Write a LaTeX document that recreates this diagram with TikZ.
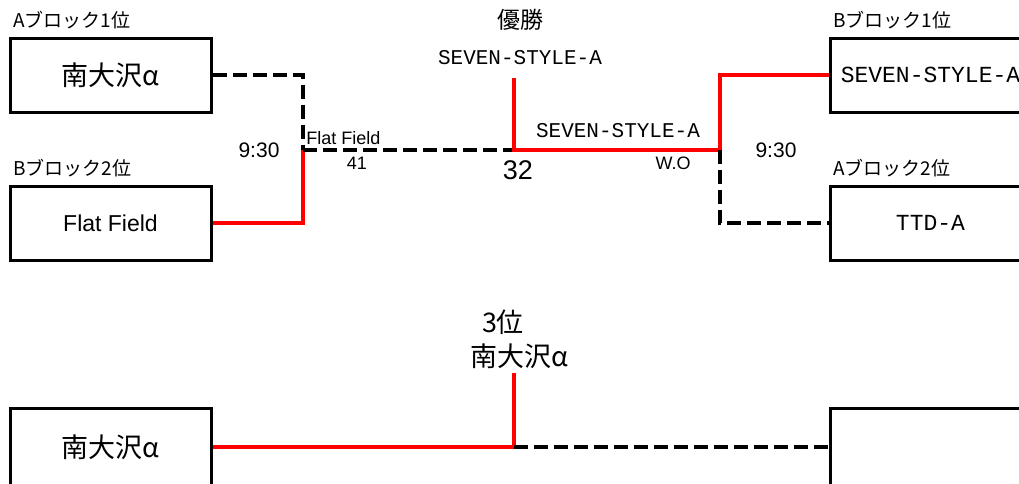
\documentclass[tikz,border=0pt]{standalone}
\usepackage{fontspec}
\setmainfont{Liberation Sans}
\newfontfamily\jpfont{Noto Sans CJK JP}
\newfontfamily\monofont{Liberation Mono}
\usetikzlibrary{positioning}
\definecolor{BrkRed}{HTML}{FF0000}
\definecolor{BrkDark}{HTML}{000000}
\newcommand{\BrkBlock}{\jpfont\fontsize{9.5}{10.5}\selectfont}
\newcommand{\BrkTeamJp}{\jpfont\fontsize{13.5}{14.5}\selectfont}
\newcommand{\BrkTeamLat}{\fontsize{11.5}{12.5}\selectfont}
\newcommand{\BrkTeamMono}{\monofont\fontsize{11.5}{12.5}\selectfont}
\newcommand{\BrkWinner}{\monofont\fontsize{10.5}{11.5}\selectfont}
\newcommand{\BrkTime}{\fontsize{10.5}{11.5}\selectfont}
\newcommand{\BrkSmall}{\fontsize{9}{10}\selectfont}
\newcommand{\BrkScore}{\fontsize{13.5}{14.5}\selectfont}
\newcommand{\BrkTitle}{\jpfont\fontsize{11.5}{12.5}\selectfont}
\newcommand{\BrkThird}{\jpfont\fontsize{13.5}{14.5}\selectfont}
\tikzset{
  teambox/.style={
    draw=BrkDark,
    line width=1.5pt,
    rectangle,
    minimum width=100.5pt,
    minimum height=37pt,
    inner sep=0pt,
    align=center,
    text=BrkDark
  },
  winline/.style={
    draw=BrkRed,
    line width=2pt
  },
  loseline/.style={
    draw=BrkDark,
    line width=2pt,
    dash pattern=on 7pt off 3pt
  },
  blocklabel/.style={
    anchor=west,
    inner sep=0pt,
    text=BrkDark,
    font=\BrkBlock
  },
  matchlabel/.style={
    inner sep=0pt,
    text=BrkDark
  }
}
\begin{document}
\begin{tikzpicture}[x=0.5pt,y=-0.5pt]
\clip (0,0) rectangle (1019,483);

% semi-final teams
\node[teambox, font=\BrkTeamJp] (minami) at (110.5,75) {南大沢α};
\node[teambox, font=\BrkTeamLat] (flat) at (110.5,223) {Flat Field};
\node[teambox, font=\BrkTeamMono] (seven) at (930.5,75) {SEVEN-STYLE-A};
\node[teambox, font=\BrkTeamMono] (ttd) at (930.5,223) {TTD-A};

\node[blocklabel] (minamiblk) at (13,20) {Aブロック1位};
\node[blocklabel] (flatblk) at (13,168) {Bブロック2位};
\node[blocklabel] (sevenblk) at (833,20) {Bブロック1位};
\node[blocklabel] (ttdblk) at (833,168) {Aブロック2位};

% third place teams
\node[teambox, font=\BrkTeamJp, minimum height=39pt] (thirdL) at (110.5,447) {南大沢α};
\node[teambox, minimum height=39pt] (thirdR) at (930.5,447) {};

% junctions
\coordinate (semiL) at (303,150);
\coordinate (semiR) at (720,150);
\coordinate (final) at (514,150);
\coordinate (champ) at (514,78);
\coordinate (third) at (514,447);
\coordinate (thirdtop) at (514,373);

% final bracket
\draw[loseline] (minami.east) -| (semiL);
\draw[winline] (flat.east) -| (semiL);
\draw[loseline] (semiL) -- (final);
\draw[winline] (champ) -- (final) -- (semiR);
\draw[winline] (semiR) |- (seven.west);
\draw[loseline] (semiR) |- (ttd.west);

% third place bracket
\draw[winline] (thirdL.east) -| (thirdtop);
\draw[loseline] (third) -- (thirdR.west);

% labels
\node[matchlabel, font=\BrkTitle] (wintitle) at (520,20) {優勝};
\node[matchlabel, font=\BrkWinner] (winname) at (520,58) {SEVEN-STYLE-A};
\node[matchlabel, font=\BrkTime] (timeL) at (259,150) {9:30};
\node[matchlabel, font=\BrkTime] (timeR) at (776,150) {9:30};
\node[matchlabel, font=\BrkSmall, anchor=west] (semiLwin) at (306,138) {Flat Field};
\node[matchlabel, font=\BrkSmall] (semiLscore) at (357,163) {41};
\node[matchlabel, font=\BrkScore] (finalscore) at (518,170) {32};
\node[matchlabel, font=\BrkWinner] (semiRwin) at (618,131) {SEVEN-STYLE-A};
\node[matchlabel, font=\BrkSmall] (semiRscore) at (673,163) {W.O};
\node[matchlabel, font=\BrkThird] (thirdtitle) at (503,322) {3位};
\node[matchlabel, font=\BrkThird] (thirdname) at (519,356) {南大沢α};

\end{tikzpicture}
\end{document}
